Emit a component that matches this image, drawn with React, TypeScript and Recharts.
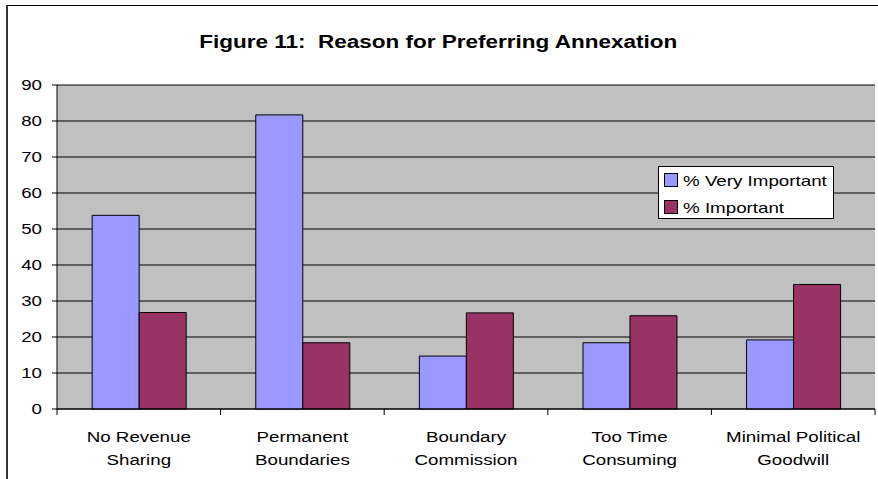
import React from "react";
import { BarChart, Bar, XAxis, YAxis, CartesianGrid } from "recharts";

const categories = [
  "No Revenue Sharing",
  "Permanent Boundaries",
  "Boundary Commission",
  "Too Time Consuming",
  "Minimal Political Goodwill",
];
const categoryLines = [
  ["No Revenue", "Sharing"],
  ["Permanent", "Boundaries"],
  ["Boundary", "Commission"],
  ["Too Time", "Consuming"],
  ["Minimal Political", "Goodwill"],
];
const veryImportant = [53.8, 81.7, 14.7, 18.4, 19.2];
const important = [26.8, 18.4, 26.7, 25.9, 34.6];
const yTicks = [0, 10, 20, 30, 40, 50, 60, 70, 80, 90];
const seriesNames = ["% Very Important", "% Important"];
const title = "Figure 11:  Reason for Preferring Annexation";

const data = categories.map((c, i) => ({
  name: c,
  vi: veryImportant[i],
  im: important[i],
}));

const W = 878;
const H = 479;
const XH = 30;
const M = { top: 85, right: 3, bottom: 70 - XH, left: 0 };
const YW = 57;
const FONT = "Arial, 'Liberation Sans', sans-serif";
const COLORS = ["#9999FF", "#993366"];
const SX = 1.25;
const band = (W - M.left - M.right - YW) / categories.length;

const XTick = (props: any) => {
  const { x, index } = props;
  const axisY = H - M.bottom - XH;
  const lines = categoryLines[index] || [props.payload.value];
  return (
    <g>
      <line x1={x - band / 2} x2={x - band / 2} y1={axisY} y2={axisY + 6} stroke="#000" />
      {index === categories.length - 1 && (
        <line x1={x + band / 2} x2={x + band / 2} y1={axisY} y2={axisY + 6} stroke="#000" />
      )}
      {lines.map((l: string, k: number) => (
        <text
          key={k}
          transform={`translate(${x},${axisY + 33 + k * 23}) scale(${SX},1)`}
          textAnchor="middle"
          fontSize={15}
          fontFamily={FONT}
          fill="#000"
        >
          {l}
        </text>
      ))}
    </g>
  );
};

const YTick = (props: any) => {
  const { x, y, payload } = props;
  return (
    <text
      transform={`translate(${x},${y + 5}) scale(${SX},1)`}
      textAnchor="end"
      fontSize={15}
      fontFamily={FONT}
      fill="#000"
    >
      {payload.value}
    </text>
  );
};

const LegendBox = () => (
  <div
    style={{
      position: "absolute",
      left: 658,
      top: 166,
      width: 176,
      height: 53,
      background: "#fff",
      border: "1px solid #000",
      fontFamily: FONT,
      fontSize: 15,
      boxSizing: "border-box",
      paddingLeft: 5,
      paddingTop: 1,
    }}
  >
    {seriesNames.map((n, i) => (
      <div key={n} style={{ display: "flex", alignItems: "center", height: 24, marginBottom: i === 0 ? 3 : 0 }}>
        <span
          style={{
            display: "inline-block",
            width: 12,
            height: 12,
            background: COLORS[i],
            border: "1px solid #000",
            marginRight: 5,
          }}
        />
        <span style={{ display: "inline-block", transform: `scaleX(${SX})`, transformOrigin: "left center", whiteSpace: "pre" }}>{n}</span>
      </div>
    ))}
  </div>
);

export default function App() {
  return (
    <div style={{ position: "absolute", left: 0, top: 0, width: W, height: H, background: "#fff", overflow: "hidden" }}>
      <div
        style={{
          position: "absolute",
          left: 6,
          top: 5,
          width: W,
          height: H,
          border: "1px solid #000",
          borderLeft: "2px solid #333",
        }}
      />
      <div
        style={{
          position: "absolute",
          left: 0,
          top: 30,
          width: W,
          textAlign: "center",
          fontFamily: FONT,
          fontWeight: "bold",
          fontSize: 18,
          lineHeight: "24px",
          whiteSpace: "pre",
          transform: `scaleX(${SX})`,
          transformOrigin: "442px 0",
        }}
      >
        {title}
      </div>
      <div style={{ position: "absolute", left: 0, top: 0 }}>
        <BarChart
          width={W}
          height={H}
          data={data}
          margin={M}
          barCategoryGap="21.5%"
          barGap={0}
        >
          <CartesianGrid vertical={false} stroke="#000" fill="#C0C0C0" fillOpacity={1} />
          <XAxis
            dataKey="name"
            height={XH}
            axisLine={{ stroke: "#000" }}
            tickLine={false}
            interval={0}
            tick={<XTick />}
          />
          <YAxis
            width={YW}
            domain={[0, 90]}
            ticks={yTicks}
            interval={0}
            axisLine={{ stroke: "#000" }}
            tickLine={{ stroke: "#000" }}
            tickSize={5}
            tickMargin={10}
            tick={<YTick />}
          />
          <Bar dataKey="vi" name={seriesNames[0]} fill={COLORS[0]} stroke="#000" strokeWidth={1} isAnimationActive={false} />
          <Bar dataKey="im" name={seriesNames[1]} fill={COLORS[1]} stroke="#000" strokeWidth={1} isAnimationActive={false} />
        </BarChart>
      </div>
      <LegendBox />
    </div>
  );
}
